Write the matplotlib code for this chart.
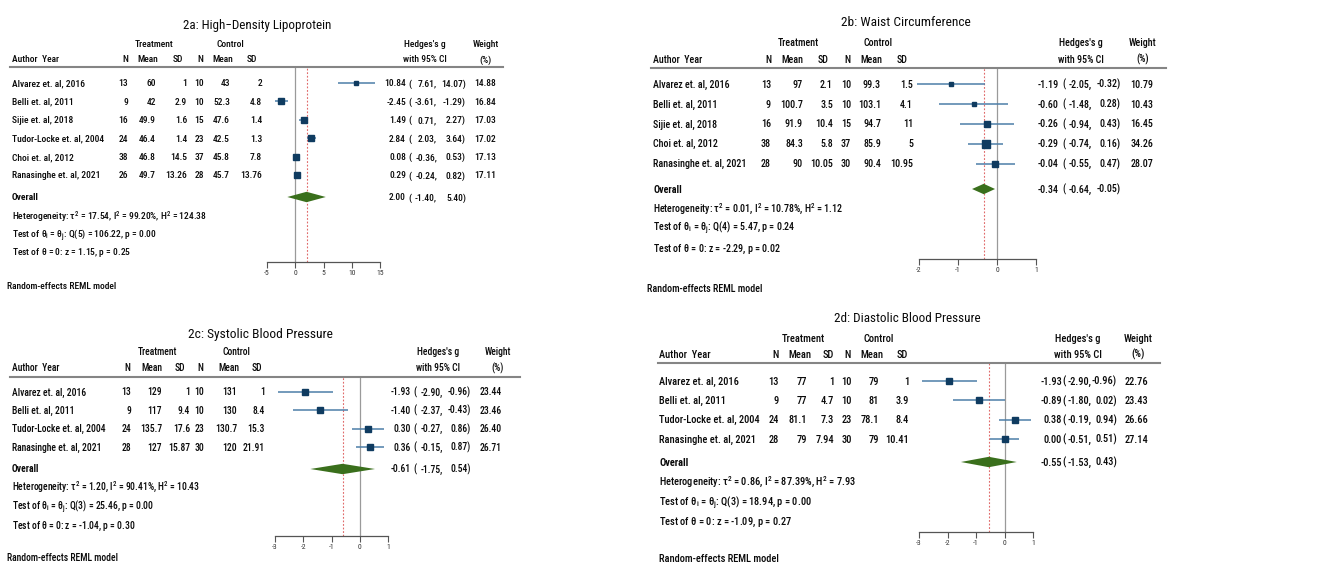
import matplotlib
matplotlib.use("Agg")
import matplotlib.pyplot as plt
from matplotlib.transforms import Affine2D
from matplotlib.lines import Line2D
import numpy as np

# ---------------- DATA ----------------
hdl_studies = ["Alvarez et. al, 2016", "Belli et. al, 2011", "Sijie et. al, 2018",
               "Tudor-Locke et. al, 2004", "Choi et. al, 2012", "Ranasinghe et. al, 2021"]
hdl_t_n = [13, 9, 16, 24, 38, 26]
hdl_t_mean = [60, 42, 49.9, 46.4, 46.8, 49.7]
hdl_t_sd = [1, 2.9, 1.6, 1.4, 14.5, 13.26]
hdl_c_n = [10, 10, 15, 23, 37, 28]
hdl_c_mean = [43, 52.3, 47.6, 42.5, 45.8, 45.7]
hdl_c_sd = [2, 4.8, 1.4, 1.3, 7.8, 13.76]
hdl_g = [10.84, -2.45, 1.49, 2.84, 0.08, 0.29]
hdl_lo = [7.61, -3.61, 0.71, 2.03, -0.36, -0.24]
hdl_hi = [14.07, -1.29, 2.27, 3.64, 0.53, 0.82]
hdl_w = [14.88, 16.84, 17.03, 17.02, 17.13, 17.11]
hdl_overall = [2.00, -1.40, 5.40]
hdl_stats = [17.54, 99.20, 124.38, 5, 106.22, 0.00, 1.15, 0.25]  # tau2, I2, H2, df, Q, pQ, z, pz

wc_studies = ["Alvarez et. al, 2016", "Belli et. al, 2011", "Sijie et. al, 2018",
              "Choi et. al, 2012", "Ranasinghe et. al, 2021"]
wc_t_n = [13, 9, 16, 38, 28]
wc_t_mean = [97, 100.7, 91.9, 84.3, 90]
wc_t_sd = [2.1, 3.5, 10.4, 5.8, 10.05]
wc_c_n = [10, 10, 15, 37, 30]
wc_c_mean = [99.3, 103.1, 94.7, 85.9, 90.4]
wc_c_sd = [1.5, 4.1, 11, 5, 10.95]
wc_g = [-1.19, -0.60, -0.26, -0.29, -0.04]
wc_lo = [-2.05, -1.48, -0.94, -0.74, -0.55]
wc_hi = [-0.32, 0.28, 0.43, 0.16, 0.47]
wc_w = [10.79, 10.43, 16.45, 34.26, 28.07]
wc_overall = [-0.34, -0.64, -0.05]
wc_stats = [0.01, 10.78, 1.12, 4, 5.47, 0.24, -2.29, 0.02]

sbp_studies = ["Alvarez et. al, 2016", "Belli et. al, 2011",
               "Tudor-Locke et. al, 2004", "Ranasinghe et. al, 2021"]
sbp_t_n = [13, 9, 24, 28]
sbp_t_mean = [129, 117, 135.7, 127]
sbp_t_sd = [1, 9.4, 17.6, 15.87]
sbp_c_n = [10, 10, 23, 30]
sbp_c_mean = [131, 130, 130.7, 120]
sbp_c_sd = [1, 8.4, 15.3, 21.91]
sbp_g = [-1.93, -1.40, 0.30, 0.36]
sbp_lo = [-2.90, -2.37, -0.27, -0.15]
sbp_hi = [-0.96, -0.43, 0.86, 0.87]
sbp_w = [23.44, 23.46, 26.40, 26.71]
sbp_overall = [-0.61, -1.75, 0.54]
sbp_stats = [1.20, 90.41, 10.43, 3, 25.46, 0.00, -1.04, 0.30]

dbp_studies = ["Alvarez et. al, 2016", "Belli et. al, 2011",
               "Tudor-Locke et. al, 2004", "Ranasinghe et. al, 2021"]
dbp_t_n = [13, 9, 24, 28]
dbp_t_mean = [77, 77, 81.1, 79]
dbp_t_sd = [1, 4.7, 7.3, 7.94]
dbp_c_n = [10, 10, 23, 30]
dbp_c_mean = [79, 81, 78.1, 79]
dbp_c_sd = [1, 3.9, 8.4, 10.41]
dbp_g = [-1.93, -0.89, 0.38, 0.00]
dbp_lo = [-2.90, -1.80, -0.19, -0.51]
dbp_hi = [-0.96, 0.02, 0.94, 0.51]
dbp_w = [22.76, 23.43, 26.66, 27.14]
dbp_overall = [-0.55, -1.53, 0.43]
dbp_stats = [0.86, 87.39, 7.93, 3, 18.94, 0.00, -1.09, 0.27]

titles = ["2a: High\u2212Density Lipoprotein", "2b: Waist Circumference",
          "2c: Systolic Blood Pressure", "2d: Diastolic Blood Pressure"]
ticks_a = [-5, 0, 5, 10, 15]
ticks_b = [-2, -1, 0, 1]
ticks_c = [-3, -2, -1, 0, 1]
ticks_d = [-3, -2, -1, 0, 1]

# ---------------- STYLE ----------------
FAMILY = ['Roboto Condensed', 'Liberation Sans', 'DejaVu Sans']
plt.rcParams['font.family'] = FAMILY
TXT = '#0a0a0a'
WEIGHT = 500
CI_COL = '#4d7ea8'
SQ_COL = '#0f3b60'
DIA_COL = '#3a6f1c'
RED = '#e06a6a'
ZERO = '#9a9a9a'

W, H = 1331, 564
fig = plt.figure(figsize=(W / 100, H / 100), dpi=100)
fig.patch.set_facecolor('white')
pix = Affine2D().scale(1.0 / W, -1.0 / H).translate(0, 1) + fig.transFigure
renderer = fig.canvas.get_renderer()


def width_px(s, size, weight=WEIGHT):
    t = fig.text(0, 0, s, fontsize=size, fontweight=weight)
    wdt = t.get_window_extent(renderer=renderer).width
    t.remove()
    return wdt


def fit_size(s, target, weight=WEIGHT):
    return 10.0 * target / width_px(s, 10.0, weight)


def T(x, y, s, ha='left', size=7.5, weight=WEIGHT):
    # y is the visual centre of capitals; convert to baseline
    yb = y + 0.36 * size * 100 / 72
    fig.text(x, yb, s, transform=pix, ha=ha, va='baseline', fontsize=size,
             fontweight=weight, color=TXT)


def fmt(v):
    return f"{v:g}"


layouts = [
    dict(title=(257, 24), h1=44, h2=59, treat=154, ctrl=230, hedg=425, wt=486,
         ay=12, hdr=[125, 148, 178, 200, 223, 252], dat=[128, 156, 187, 204, 230, 262],
         line=(10, 503, 67), row0=83, dy=18.4, ov=197, st=[216, 234, 252],
         ax=(267, 380, 67, 262), lim=(-5, 15), ticks=ticks_a, reml=(7, 286),
         ci=[406, 408, 437, 466, 496], fit=("Tudor-Locke et. al, 2004", 92), tfit=147),
    dict(title=(906, 21), h1=42, h2=59, treat=798, ctrl=878, hedg=1081, wt=1143,
         ay=653, hdr=[768, 792, 823, 847, 871, 902], dat=[771, 803, 833, 851, 881, 913],
         line=(651, 1166, 68), row0=84, dy=19.9, ov=189, st=[209, 228, 248],
         ax=(919, 1036, 68, 259), lim=(-2, 1), ticks=ticks_b, reml=(647, 288),
         ci=[1059, 1062, 1092, 1121, 1153], fit=("Ranasinghe et. al, 2021", 93), tfit=128),
    dict(title=(260, 333), h1=352, h2=368, treat=157, ctrl=236, hedg=438, wt=498,
         ay=12, hdr=[127, 152, 180, 200, 229, 257], dat=[131, 162, 190, 204, 237, 265],
         line=(10, 520, 377), row0=392, dy=18.4, ov=469, st=[487, 507, 525],
         ax=(275, 388, 377, 536), lim=(-3, 1), ticks=ticks_c, reml=(7, 558),
         ci=[411, 413, 443, 471, 502], fit=("Tudor-Locke et. al, 2004", 94), tfit=144),
    dict(title=(907, 317), h1=338, h2=354, treat=803, ctrl=879, hedg=1078, wt=1138,
         ay=659, hdr=[776, 800, 828, 848, 872, 902], dat=[779, 807, 834, 852, 879, 909],
         line=(658, 1160, 363), row0=381, dy=19.3, ov=462, st=[482, 502, 521],
         ax=(919, 1033, 363, 532), lim=(-3, 1), ticks=ticks_d, reml=(659, 558),
         ci=[1062, 1062.5, 1091, 1117, 1148], fit=("Tudor-Locke et. al, 2004", 101), tfit=145),
]

panels = [
    (hdl_studies, hdl_t_n, hdl_t_mean, hdl_t_sd, hdl_c_n, hdl_c_mean, hdl_c_sd,
     hdl_g, hdl_lo, hdl_hi, hdl_w, hdl_overall, hdl_stats),
    (wc_studies, wc_t_n, wc_t_mean, wc_t_sd, wc_c_n, wc_c_mean, wc_c_sd,
     wc_g, wc_lo, wc_hi, wc_w, wc_overall, wc_stats),
    (sbp_studies, sbp_t_n, sbp_t_mean, sbp_t_sd, sbp_c_n, sbp_c_mean, sbp_c_sd,
     sbp_g, sbp_lo, sbp_hi, sbp_w, sbp_overall, sbp_stats),
    (dbp_studies, dbp_t_n, dbp_t_mean, dbp_t_sd, dbp_c_n, dbp_c_mean, dbp_c_sd,
     dbp_g, dbp_lo, dbp_hi, dbp_w, dbp_overall, dbp_stats),
]

for k, (L, P) in enumerate(zip(layouts, panels)):
    studies, tn, tm, tsd, cn, cm, csd, g, lo, hi, w, ov, st = P
    fs = fit_size(*L['fit'])
    tfs = fit_size(titles[k], L['tfit'], 'normal')
    # title
    T(L['title'][0], L['title'][1], titles[k], ha='center', size=tfs, weight='normal')
    # headers
    T(L['treat'], L['h1'], "Treatment", ha='center', size=fs)
    T(L['ctrl'], L['h1'], "Control", ha='center', size=fs)
    T(L['hedg'], L['h1'], "Hedges's g", ha='center', size=fs)
    T(L['wt'], L['h1'], "Weight", ha='center', size=fs)
    T(L['ay'], L['h2'], "Author  Year", size=fs)
    for xh, lab in zip(L['hdr'], ["N", "Mean", "SD", "N", "Mean", "SD"]):
        T(xh, L['h2'], lab, ha='center', size=fs)
    T(L['hedg'], L['h2'], "with 95% CI", ha='center', size=fs)
    T(L['wt'], L['h2'], "(%)", ha='center', size=fs)
    x0, x1, yl = L['line']
    fig.add_artist(Line2D([x0, x1], [yl, yl], transform=pix, color='#858585', lw=1.5))

    # forest axes
    px0, px1, ay0, ay1 = L['ax']
    ax = fig.add_axes([px0 / W, 1 - ay1 / H, (px1 - px0) / W, (ay1 - ay0) / H])
    ax.set_xlim(*L['lim'])
    ax.set_ylim(ay1, ay0)
    ax.patch.set_visible(False)
    for s in ['top', 'right', 'left']:
        ax.spines[s].set_visible(False)
    ax.spines['bottom'].set_color('#555555')
    ax.spines['bottom'].set_linewidth(0.9)
    ax.set_yticks([])
    ax.set_xticks(L['ticks'])
    ax.set_xticklabels([str(t) for t in L['ticks']])
    ax.tick_params(axis='x', length=4, width=0.8, color='#555555', labelsize=5.5,
                   pad=2, labelcolor='#333333')
    ax.axvline(0, color=ZERO, lw=0.9, zorder=1)
    ax.axvline(ov[0], color=RED, lw=0.8, ls=(0, (1.6, 1.6)), zorder=1)

    ci = L['ci']
    for i in range(len(studies)):
        y = L['row0'] + i * L['dy']
        ax.plot([lo[i], hi[i]], [y, y], color=CI_COL, lw=1.1, clip_on=False,
                solid_capstyle='butt', zorder=3)
        ax.plot([g[i]], [y], marker='s', ms=1.25 * np.sqrt(w[i]) * 0.72,
                color=SQ_COL, clip_on=False, zorder=4, lw=0)
        T(L['ay'], y, studies[i], size=fs)
        vals = [tn[i], tm[i], tsd[i], cn[i], cm[i], csd[i]]
        for xr, v in zip(L['dat'], vals):
            T(xr, y, fmt(v), ha='right', size=fs)
        T(ci[0], y, f"{g[i]:.2f}", ha='right', size=fs)
        T(ci[1], y, "(", size=fs)
        T(ci[2], y, f"{lo[i]:.2f},", ha='right', size=fs)
        T(ci[3], y, f"{hi[i]:.2f})", ha='right', size=fs)
        T(ci[4], y, f"{w[i]:.2f}", ha='right', size=fs)

    yo = L['ov']
    ax.fill([ov[1], ov[0], ov[2], ov[0]], [yo, yo - 5.2, yo, yo + 5.2],
            color=DIA_COL, lw=0, clip_on=False, zorder=4)
    T(L['ay'], yo, "Overall", size=fs, weight='bold')
    T(ci[0], yo, f"{ov[0]:.2f}", ha='right', size=fs)
    T(ci[1], yo, "(", size=fs)
    T(ci[2], yo, f"{ov[1]:.2f},", ha='right', size=fs)
    T(ci[3], yo, f"{ov[2]:.2f})", ha='right', size=fs)

    tau2, i2, h2, df, q, pq, z, pz = st
    T(L['ay'], L['st'][0],
      f"Heterogeneity: $\\mathregular{{\\tau^2}}$ = {tau2:.2f}, $\\mathregular{{I^2}}$ = {i2:.2f}%, "
      f"$\\mathregular{{H^2}}$ = {h2:.2f}", size=fs)
    T(L['ay'], L['st'][1],
      f"Test of $\\mathregular{{\\theta_i}}$ = $\\mathregular{{\\theta_j}}$: Q({df}) = {q:.2f}, p = {pq:.2f}",
      size=fs)
    T(L['ay'], L['st'][2],
      f"Test of $\\mathregular{{\\theta}}$ = 0: z = {z:.2f}, p = {pz:.2f}", size=fs)
    T(L['reml'][0], L['reml'][1], "Random-effects REML model", size=fs)

fig.savefig('out.png', dpi=100, facecolor='white')
